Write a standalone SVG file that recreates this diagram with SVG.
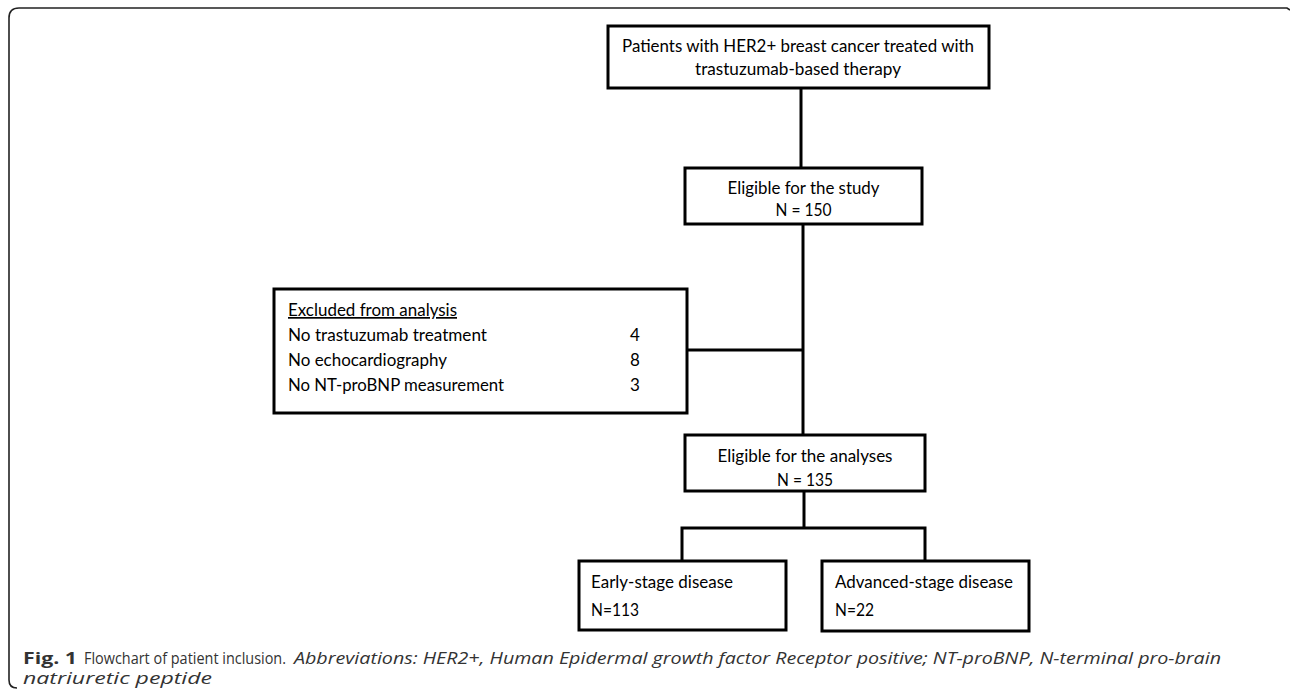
<svg xmlns="http://www.w3.org/2000/svg" width="1290" height="689" viewBox="0 0 1290 689">
<style>
.box{fill:#fff;stroke:#000;stroke-width:3}
.con{fill:none;stroke:#000;stroke-width:3}
.t{font-family:Lato,"Liberation Sans",sans-serif;font-size:17px;fill:#000}
.c{text-anchor:middle}
.cap{font-family:"Open Sans","Liberation Sans",sans-serif;font-size:16px;fill:#333}
</style>
<rect width="1290" height="689" fill="#fff"/>
<path d="M17,688 Q9,688 9,680 L9,18 Q9,8 19,8 L1287,8 L1290,10" fill="none" stroke="#222" stroke-width="1.6"/>
<g id="connectors">
<line class="con" x1="801" y1="88" x2="801" y2="168"/>
<line class="con" x1="803" y1="224" x2="803" y2="435"/>
<line class="con" x1="687" y1="350" x2="803" y2="350"/>
<line class="con" x1="804" y1="491" x2="804" y2="528"/>
<polyline class="con" points="682,561 682,528 925,528 925,561"/>
</g>
<g id="n_patients">
<rect class="box" x="608" y="26" width="381" height="62"/>
<text class="t c" x="798" y="52" textLength="352" lengthAdjust="spacingAndGlyphs">Patients with HER2+ breast cancer treated with</text>
<text class="t c" x="798" y="75" textLength="206" lengthAdjust="spacingAndGlyphs">trastuzumab-based therapy</text>
</g>
<g id="n_eligible_study">
<rect class="box" x="685" y="168" width="237" height="56"/>
<text class="t c" x="803.5" y="194" textLength="152" lengthAdjust="spacingAndGlyphs">Eligible for the study</text>
<text class="t c" x="803.5" y="216" textLength="56" lengthAdjust="spacingAndGlyphs">N = 150</text>
</g>
<g id="n_excluded">
<rect class="box" x="274" y="289" width="413" height="124"/>
<text class="t" x="288" y="316" textLength="169" lengthAdjust="spacingAndGlyphs" text-decoration="underline">Excluded from analysis</text>
<text class="t" x="288" y="341" textLength="199" lengthAdjust="spacingAndGlyphs">No trastuzumab treatment</text>
<text class="t" x="630" y="341">4</text>
<text class="t" x="288" y="366" textLength="159" lengthAdjust="spacingAndGlyphs">No echocardiography</text>
<text class="t" x="630" y="366">8</text>
<text class="t" x="288" y="391" textLength="216" lengthAdjust="spacingAndGlyphs">No NT-proBNP measurement</text>
<text class="t" x="630" y="391">3</text>
</g>
<g id="n_eligible_analyses">
<rect class="box" x="685" y="435" width="240" height="56"/>
<text class="t c" x="805" y="462" textLength="175" lengthAdjust="spacingAndGlyphs">Eligible for the analyses</text>
<text class="t c" x="805" y="486" textLength="56" lengthAdjust="spacingAndGlyphs">N = 135</text>
</g>
<g id="n_early">
<rect class="box" x="579" y="561" width="207" height="69"/>
<text class="t" x="591" y="588" textLength="142" lengthAdjust="spacingAndGlyphs">Early-stage disease</text>
<text class="t" x="591" y="616" textLength="48" lengthAdjust="spacingAndGlyphs">N=113</text>
</g>
<g id="n_advanced">
<rect class="box" x="822" y="561" width="207" height="70"/>
<text class="t" x="835" y="588" textLength="178" lengthAdjust="spacingAndGlyphs">Advanced-stage disease</text>
<text class="t" x="835" y="616" textLength="39" lengthAdjust="spacingAndGlyphs">N=22</text>
</g>
<g id="caption">
<text class="cap" x="23" y="664" font-weight="bold" fill="#111" textLength="54" lengthAdjust="spacingAndGlyphs">Fig. 1</text>
<text class="cap" x="84" y="664" textLength="202" lengthAdjust="spacingAndGlyphs">Flowchart of patient inclusion.</text>
<text class="cap" x="294" y="664" font-style="italic" textLength="927" lengthAdjust="spacingAndGlyphs">Abbreviations: HER2+, Human Epidermal growth factor Receptor positive; NT-proBNP, N-terminal pro-brain</text>
<text class="cap" x="23" y="684" font-style="italic" textLength="189" lengthAdjust="spacingAndGlyphs">natriuretic peptide</text>
</g>
</svg>
